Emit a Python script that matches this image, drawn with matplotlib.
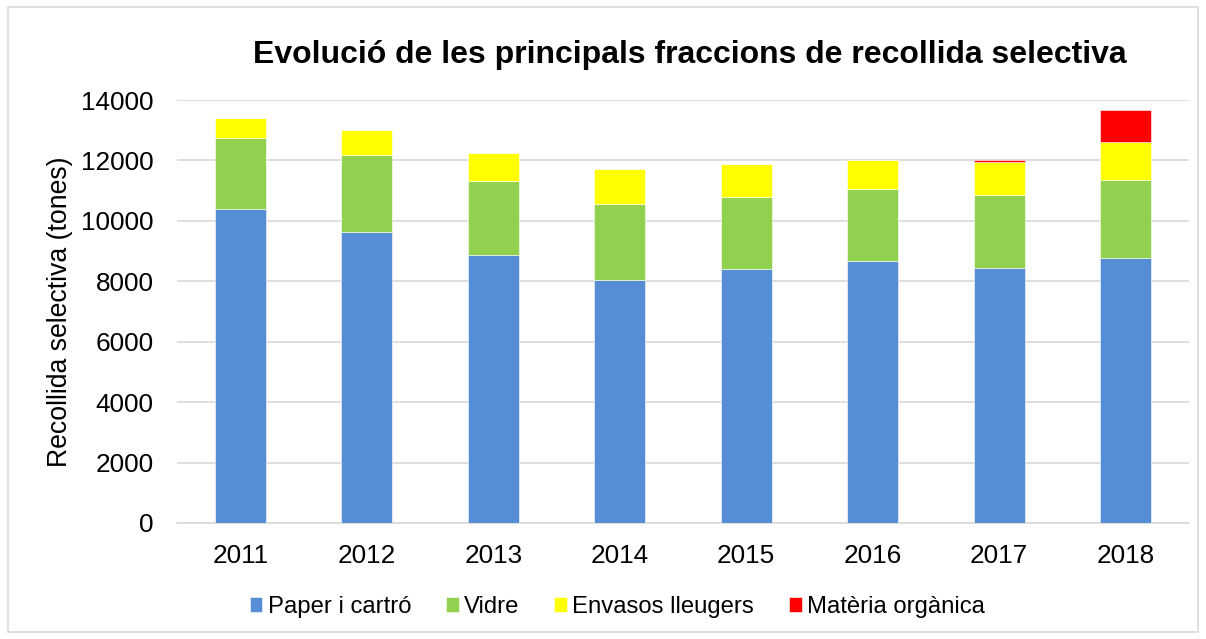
import numpy as np
import matplotlib.pyplot as plt
from matplotlib.patches import Rectangle

plt.rcParams['font.family'] = ['Liberation Sans', 'DejaVu Sans']

# data (tones)
years = ['2011', '2012', '2013', '2014', '2015', '2016', '2017', '2018']
paper = [10390, 9620, 8860, 8040, 8410, 8680, 8450, 8770]
vidre = [2340, 2560, 2460, 2510, 2380, 2360, 2420, 2580]
envasos = [690, 840, 910, 1160, 1090, 990, 1070, 1260]
organica = [0, 0, 0, 0, 0, 0, 80, 1070]

labels = ['Paper i cartró', 'Vidre', 'Envasos lleugers', 'Matèria orgànica']
colors = ['#558ED5', '#92D050', '#FFFF00', '#FF0000']

fig = plt.figure(figsize=(12.06, 6.39), dpi=100)
ax = fig.add_axes([177 / 1206, 1 - 523 / 639, (1189 - 177) / 1206, (523 - 100) / 639])

# chart border
fig.patches.append(Rectangle((8 / 1206, 7 / 639), 1190 / 1206, 625 / 639,
                             transform=fig.transFigure, fill=False,
                             edgecolor='#D9D9D9', linewidth=1.2))

x = np.arange(len(years))
bottom = np.zeros(len(years))
for vals, lab, col in zip([paper, vidre, envasos, organica], labels, colors):
    ax.bar(x, vals, 0.4, bottom=bottom, color=col, label=lab,
           edgecolor='white', linewidth=0.4, zorder=3)
    bottom += np.array(vals)

ax.set_xlim(-0.5, len(years) - 0.5)
ax.set_ylim(0, 14000)
ax.set_yticks(np.arange(0, 14001, 2000))
ax.set_xticks(x)
ax.set_xticklabels(years)
ax.tick_params(axis='both', length=0, labelsize=18.8, colors='black')
ax.tick_params(axis='y', pad=17)
ax.tick_params(axis='x', pad=15)
ax.grid(axis='y', color='#D9D9D9', linewidth=1.2, zorder=0)
for s in ['top', 'right', 'left']:
    ax.spines[s].set_visible(False)
ax.spines['bottom'].set_color('#D9D9D9')
ax.spines['bottom'].set_linewidth(1.2)

ax.set_ylabel('Recollida selectiva (tones)', fontsize=19.2)
ax.yaxis.set_label_coords(-0.103, 0.5)

fig.text(690 / 1206, 1 - 55 / 639, 'Evolució de les principals fraccions de recollida selectiva',
         ha='center', va='center', fontsize=23, fontweight='bold')

fig.legend(loc='center', bbox_to_anchor=(617 / 1206, 1 - 607 / 639), ncol=4,
           frameon=False, fontsize=17.2, handlelength=0.54, handleheight=0.54,
           handletextpad=0.21, columnspacing=1.46, borderpad=0)

fig.savefig('out.png', dpi=100)
